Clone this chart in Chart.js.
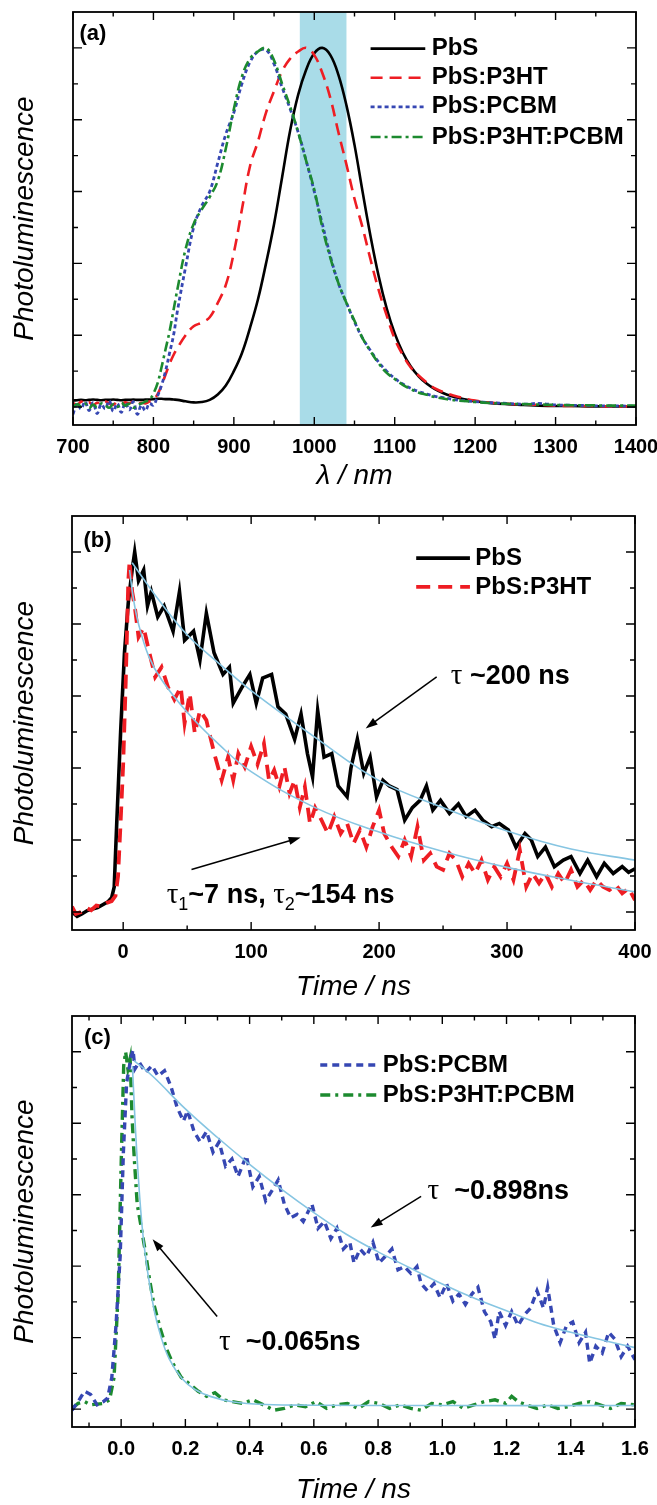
<!DOCTYPE html>
<html lang="en">
<head>
<meta charset="utf-8">
<title>PL PbS</title>
<script src="https://cdn.jsdelivr.net/npm/chart.js@4.4.1/dist/chart.umd.min.js"></script>
<style>
  html, body { margin: 0; padding: 0; background: #fff; }
  body { position: relative; width: 657px; height: 1505px; overflow: hidden; }
  canvas { position: absolute; left: 0; }
</style>
</head>
<body>
<canvas id="graficoA" width="657" height="500" style="top:0px"></canvas>
<canvas id="graficoB" width="657" height="510" style="top:495px"></canvas>
<canvas id="graficoC" width="657" height="500" style="top:1005px"></canvas>
<script>
// ---------- Panel (a): espectros de PL ----------
const longitudOnda = [700,705,710,715,720,725,730,735,740,745,750,755,760,765,770,775,780,785,790,795,
  800,805,810,815,820,825,830,
  840,850,860,870,880,890,900,910,920,930,940,950,960,970,980,990,1000,1010,1020,1030,1040,1050,1060,1070,
  1080,1090,1100,1110,1120,1130,1140,1150,1160,1170,1180,1190,1200,
  1220,1240,1260,1280,1300,1320,1340,1360,1380,1400];
const espPbS = [0.018,0.019,0.02,0.019,0.02,0.021,0.02,0.019,0.02,0.02,0.021,0.02,0.019,0.02,0.02,0.021,0.02,0.02,0.021,0.021,
  0.022,0.023,0.023,0.022,0.022,0.021,0.02,
  0.016,0.013,0.014,0.02,0.035,0.06,0.1,0.15,0.22,0.3,0.4,0.51,0.64,0.77,0.87,0.94,0.985,1.0,0.98,0.925,0.84,0.73,0.6,0.475,
  0.365,0.275,0.205,0.152,0.113,0.085,0.065,0.05,0.039,0.031,0.025,0.02,0.016,
  0.011,0.008,0.006,0.004,0.003,0.003,0.002,0.002,0.002,0.002];
const espP3HT = [0.012,0.005,0.015,0.008,0.013,0.005,0.012,0.008,0.015,0.01,0.006,0.014,0.008,0.013,0.01,0.015,0.008,0.012,0.01,0.015,
  0.02,0.035,0.06,0.09,0.12,0.145,0.165,
  0.2,0.225,0.235,0.25,0.29,0.34,0.43,0.55,0.67,0.74,0.82,0.88,0.935,0.97,0.99,1.0,0.98,0.93,0.86,0.765,0.675,0.58,0.5,0.41,
  0.326,0.255,0.19,0.145,0.11,0.087,0.068,0.052,0.042,0.034,0.028,0.022,0.018,
  0.012,0.009,0.007,0.006,0.004,0.003,0.003,0.002,0.002,0.002];
const espPCBM = [-0.02,0.01,-0.005,0.015,-0.01,0.012,-0.018,0.008,-0.005,0.018,-0.012,0.01,-0.015,0.012,-0.008,0.015,-0.02,0.005,-0.01,0.01,
  0.005,0.03,0.06,0.1,0.15,0.2,0.27,
  0.39,0.5,0.56,0.6,0.68,0.76,0.82,0.9,0.96,0.99,0.995,0.955,0.89,0.83,0.765,0.685,0.6,0.51,0.42,0.345,0.29,0.237,0.192,0.157,
  0.125,0.1,0.08,0.064,0.052,0.043,0.036,0.03,0.026,0.022,0.019,0.017,0.015,
  0.012,0.01,0.008,0.01,0.006,0.005,0.004,0.003,0.003,0.002];
const espP3HTPCBM = [0.0,0.008,0.002,0.01,-0.003,0.007,0.0,0.01,0.005,-0.002,0.008,0.0,0.012,0.004,0.009,-0.002,0.006,0.01,0.015,0.02,
  0.038,0.065,0.11,0.16,0.21,0.27,0.33,
  0.44,0.51,0.55,0.585,0.63,0.72,0.83,0.92,0.97,0.99,1.0,0.965,0.9,0.836,0.765,0.685,0.605,0.5,0.415,0.345,0.29,0.24,0.192,0.155,
  0.122,0.095,0.078,0.062,0.05,0.04,0.034,0.028,0.024,0.02,0.018,0.016,0.014,
  0.011,0.009,0.008,0.007,0.006,0.005,0.005,0.004,0.004,0.004];
const bandaFiltro = [982, 1040];
const ticksA = [700, 800, 900, 1000, 1100, 1200, 1300, 1400];

// ---------- Panel (b): decaimiento PbS y PbS:P3HT (ns) ----------
const tiempoPbS = [-40,-36,-32,-28,-24,-20,-16,-12,-9,-7,-5,-2,1,4,7,9,12,16,19,22,27,32,39,44,48,55,60,65,71,78,83,86,93,
  99,104,109,116,121,127,134,139,144,148,152,157,163,168,175,178,183,188,193,198,203,208,214,220,226,232,237,242,248,255,
  262,268,275,281,288,294,301,307,314,319,324,330,337,344,350,357,363,370,376,383,390,395,400];
const decPbS = [0.0,-0.012,-0.005,0.004,0.008,0.012,0.02,0.028,0.04,0.07,0.25,0.5,0.72,0.86,0.95,1.0,0.92,0.95,0.85,0.89,0.82,
  0.85,0.78,0.89,0.755,0.78,0.7,0.83,0.72,0.66,0.68,0.58,0.625,0.66,0.58,0.65,0.66,0.57,0.55,0.48,0.55,0.44,0.375,0.56,0.43,
  0.44,0.35,0.32,0.4,0.48,0.385,0.43,0.32,0.366,0.35,0.34,0.255,0.29,0.31,0.35,0.283,0.31,0.274,0.3,0.265,0.283,0.255,0.237,
  0.246,0.228,0.18,0.218,0.2,0.154,0.18,0.126,0.144,0.154,0.107,0.144,0.098,0.135,0.107,0.126,0.11,0.12];
const tiempoP3HT = [-40,-37,-33,-29,-25,-21,-17,-13,-9,-6,-4,-2,0,2,4,5,7,9,12,16,20,25,30,35,40,45,48,52,56,60,65,68,72,77,
  82,86,90,95,100,105,110,114,118,122,126,130,134,138,142,146,150,155,160,165,170,175,180,185,190,195,200,204,210,215,220,
  225,230,235,240,245,250,255,260,265,270,275,280,285,290,295,300,305,310,315,320,325,330,335,340,345,350,355,360,365,370,
  375,380,385,390,395,400];
const decP3HT = [0.015,-0.005,0.0,0.012,0.005,0.018,0.015,0.025,0.03,0.045,0.1,0.25,0.41,0.64,0.92,0.975,0.89,0.85,0.764,0.79,
  0.727,0.653,0.68,0.625,0.59,0.625,0.524,0.607,0.496,0.56,0.533,0.487,0.43,0.366,0.43,0.366,0.44,0.403,0.46,0.41,0.468,0.366,
  0.394,0.348,0.403,0.33,0.366,0.29,0.348,0.246,0.29,0.255,0.218,0.265,0.218,0.246,0.19,0.228,0.18,0.237,0.283,0.218,0.18,
  0.154,0.2,0.154,0.237,0.144,0.163,0.126,0.117,0.163,0.144,0.098,0.135,0.107,0.144,0.089,0.126,0.098,0.135,0.089,0.172,0.07,
  0.107,0.08,0.107,0.07,0.107,0.08,0.117,0.07,0.089,0.061,0.089,0.07,0.061,0.075,0.052,0.066,0.033];
const ajusteTiempoPbS = [7, 15, 25, 50, 75, 100, 150, 200, 250, 300, 350, 400];
const ajustePbS = [0.97, 0.93, 0.88, 0.77, 0.69, 0.615, 0.485, 0.365, 0.29, 0.225, 0.175, 0.144];
const ajusteTiempoP3HT = [5, 8, 12, 20, 30, 50, 75, 100, 150, 200, 250, 300, 350, 400];
const ajusteP3HT = [0.95, 0.87, 0.8, 0.71, 0.645, 0.555, 0.465, 0.39, 0.29, 0.222, 0.168, 0.124, 0.088, 0.056];
const ticksB = [0, 100, 200, 300, 400];

// ---------- Panel (c): decaimiento PbS:PCBM y PbS:P3HT:PCBM (ns) ----------
const tiempoPCBM = [-0.153,-0.134,-0.114,-0.095,-0.075,-0.055,-0.042,-0.029,-0.016,-0.003,0.007,0.017,0.03,0.037,0.043,0.056,
  0.076,0.096,0.115,0.135,0.155,0.174,0.194,0.207,0.227,0.246,0.266,0.286,0.305,0.325,0.345,0.364,0.39,0.41,0.43,0.45,0.47,
  0.489,0.508,0.528,0.548,0.567,0.594,0.613,0.633,0.653,0.672,0.692,0.712,0.725,0.744,0.764,0.784,0.803,0.823,0.843,0.862,
  0.882,0.902,0.921,0.934,0.954,0.974,0.993,1.013,1.033,1.052,1.072,1.092,1.111,1.131,1.151,1.164,1.177,1.197,1.216,1.236,
  1.256,1.275,1.295,1.315,1.328,1.347,1.367,1.387,1.406,1.426,1.446,1.459,1.478,1.498,1.518,1.537,1.557,1.577,1.6];
const decPCBM = [-0.003,0.021,0.05,0.041,0.012,0.021,0.031,0.089,0.234,0.428,0.719,0.913,0.981,1.005,0.952,0.971,0.942,0.961,
  0.932,0.947,0.903,0.845,0.806,0.835,0.777,0.748,0.777,0.719,0.748,0.68,0.7,0.651,0.709,0.622,0.651,0.583,0.612,0.641,0.574,
  0.535,0.545,0.525,0.574,0.506,0.525,0.477,0.506,0.448,0.467,0.409,0.448,0.428,0.467,0.409,0.428,0.448,0.39,0.399,0.38,0.399,
  0.351,0.331,0.351,0.312,0.351,0.302,0.322,0.293,0.322,0.341,0.273,0.244,0.196,0.273,0.234,0.273,0.234,0.264,0.283,0.331,
  0.283,0.341,0.234,0.186,0.234,0.244,0.186,0.215,0.128,0.176,0.157,0.215,0.196,0.147,0.176,0.138];
const tiempoP3HTPCBM = [-0.153,-0.134,-0.114,-0.095,-0.075,-0.055,-0.036,-0.022,-0.009,0.001,0.008,0.014,0.021,0.028,0.034,
  0.041,0.05,0.063,0.076,0.089,0.102,0.122,0.142,0.161,0.187,0.214,0.24,0.266,0.292,0.318,0.345,0.377,0.41,0.443,0.476,0.508,
  0.541,0.574,0.607,0.64,0.672,0.705,0.738,0.771,0.803,0.836,0.869,0.902,0.934,0.967,1.0,1.033,1.066,1.098,1.131,1.164,1.197,
  1.216,1.236,1.262,1.295,1.328,1.36,1.393,1.426,1.459,1.491,1.524,1.557,1.6];
const decP3HTPCBM = [0.002,0.016,0.021,0.012,0.014,0.016,0.026,0.089,0.331,0.719,0.961,1.0,0.952,0.981,0.816,0.7,0.574,0.506,
  0.438,0.36,0.293,0.225,0.167,0.128,0.089,0.07,0.05,0.036,0.046,0.026,0.021,0.016,0.026,0.012,-0.003,0.002,0.012,0.007,0.021,
  0.002,0.012,0.016,0.002,0.021,0.016,0.002,0.012,0.002,-0.003,0.016,0.012,0.021,0.002,0.012,0.021,0.026,0.016,0.036,0.021,
  0.012,0.002,0.012,0.002,0.007,0.016,0.021,0.012,0.002,0.016,0.012];
const ajusteTiempoPCBM = [0.04, 0.1, 0.2, 0.3, 0.4, 0.5, 0.6, 0.7, 0.8, 0.9, 1.0, 1.1, 1.2, 1.3, 1.4, 1.5, 1.6];
const ajustePCBM = [0.975, 0.93, 0.84, 0.76, 0.685, 0.615, 0.55, 0.49, 0.44, 0.395, 0.35, 0.31, 0.275, 0.24, 0.215, 0.193, 0.172];
const ajusteTiempoP3HTPCBM = [0.035, 0.05, 0.07, 0.1, 0.125, 0.15, 0.19, 0.23, 0.28, 0.35, 0.45, 0.6, 1.0, 1.6];
const ajusteP3HTPCBM = [0.96, 0.7, 0.47, 0.29, 0.2, 0.14, 0.085, 0.055, 0.035, 0.02, 0.013, 0.011, 0.01, 0.01];
const ticksC = [0, 0.2, 0.4, 0.6, 0.8, 1.0, 1.2, 1.4, 1.6];

// ---------- estilos ----------
const FUENTE = '"Liberation Sans", Arial, sans-serif';
const SERIF = '"Liberation Serif", "Times New Roman", serif';
const NEGRO = '#000000';
const ROJO = '#ee1d23';
const AZUL = '#3647b3';
const VERDE = '#1c8a2f';
const CELESTE = '#86c5e2';

function puntos(xs, ys) {
  return xs.map((x, i) => ({ x, y: ys[i] }));
}

function serie(label, xs, ys, color, ancho, guiones, tension, orden) {
  return {
    label, data: puntos(xs, ys), borderColor: color, borderWidth: ancho,
    borderDash: guiones, tension, order: orden, pointRadius: 0, fill: false
  };
}

// texto con partes: 'b' negrita, 'tau' simbolo, 'sub' subindice
function dibujarTexto(ctx, partes, x, y, tam) {
  ctx.textBaseline = 'middle';
  ctx.fillStyle = '#000';
  partes.forEach(([t, tipo]) => {
    let dy = 0;
    if (tipo === 'tau') ctx.font = `${tam + 2}px ${SERIF}`;
    else if (tipo === 'sub') { ctx.font = `${Math.round(tam * 0.65)}px ${FUENTE}`; dy = tam * 0.38; }
    else ctx.font = `bold ${tam}px ${FUENTE}`;
    ctx.fillText(t, x, y + dy);
    x += ctx.measureText(t).width;
  });
}

function flecha(ctx, x0, y0, x1, y1) {
  const ang = Math.atan2(y1 - y0, x1 - x0);
  ctx.strokeStyle = '#000';
  ctx.fillStyle = '#000';
  ctx.lineWidth = 1.5;
  ctx.setLineDash([]);
  ctx.beginPath();
  ctx.moveTo(x0, y0);
  ctx.lineTo(x1 - 8 * Math.cos(ang), y1 - 8 * Math.sin(ang));
  ctx.stroke();
  ctx.beginPath();
  ctx.moveTo(x1, y1);
  ctx.lineTo(x1 - 12 * Math.cos(ang) + 4 * Math.sin(ang), y1 - 12 * Math.sin(ang) - 4 * Math.cos(ang));
  ctx.lineTo(x1 - 12 * Math.cos(ang) - 4 * Math.sin(ang), y1 - 12 * Math.sin(ang) + 4 * Math.cos(ang));
  ctx.closePath();
  ctx.fill();
}

// marco, ticks hacia dentro, banda, leyenda y notas
const decoracion = {
  id: 'decoracion',
  beforeDatasetsDraw(chart, args, o) {
    if (!o.banda) return;
    const { ctx, chartArea: a, scales: { x } } = chart;
    const x0 = x.getPixelForValue(o.banda[0]);
    const x1 = x.getPixelForValue(o.banda[1]);
    ctx.save();
    ctx.fillStyle = '#a9dce8';
    ctx.fillRect(x0, a.top, x1 - x0, a.bottom - a.top);
    ctx.restore();
  },
  afterDraw(chart, args, o) {
    const { ctx, chartArea: a, scales: { x, y } } = chart;
    ctx.save();
    ctx.strokeStyle = '#000';
    ctx.lineWidth = 1.4;
    ctx.beginPath();
    const paso = o.pasoX / 2;
    for (let k = Math.ceil(x.min / paso - 1e-6); k * paso <= x.max + 1e-6; k++) {
      const px = x.getPixelForValue(k * paso);
      const l = k % 2 === 0 ? 8 : 4.5;
      ctx.moveTo(px, a.bottom); ctx.lineTo(px, a.bottom - l);
      ctx.moveTo(px, a.top); ctx.lineTo(px, a.top + l);
    }
    for (let k = Math.ceil(y.min / 0.1 - 1e-6); k * 0.1 < y.max - 1e-6; k++) {
      const py = y.getPixelForValue(k * 0.1);
      const l = k % 2 === 0 ? 9 : 5;
      ctx.moveTo(a.left, py); ctx.lineTo(a.left + l, py);
      ctx.moveTo(a.right, py); ctx.lineTo(a.right - l, py);
    }
    ctx.stroke();
    ctx.lineWidth = 1.8;
    ctx.strokeRect(a.left, a.top, a.right - a.left, a.bottom - a.top);

    // leyenda
    const L = o.leyenda;
    const lx0 = x.getPixelForValue(L.x0), lx1 = x.getPixelForValue(L.x1), lxt = x.getPixelForValue(L.xTexto);
    L.items.forEach(([indice, valor]) => {
      const ds = chart.data.datasets[indice];
      const py = y.getPixelForValue(valor);
      ctx.save();
      ctx.strokeStyle = ds.borderColor;
      ctx.lineWidth = ds.borderWidth;
      ctx.setLineDash(ds.borderDash || []);
      ctx.beginPath(); ctx.moveTo(lx0, py); ctx.lineTo(lx1, py); ctx.stroke();
      ctx.restore();
      dibujarTexto(ctx, [[ds.label, 'b']], lxt + 4, py, L.tam);
    });

    // notas y flechas
    (o.notas || []).forEach(n => {
      dibujarTexto(ctx, n.partes, x.getPixelForValue(n.x), y.getPixelForValue(n.y), n.tam);
    });
    (o.flechas || []).forEach(f => {
      flecha(ctx, x.getPixelForValue(f[0]), y.getPixelForValue(f[1]), x.getPixelForValue(f[2]), y.getPixelForValue(f[3]));
    });
    ctx.restore();
  }
};

function crearPanel(id, cfg) {
  return new Chart(document.getElementById(id), {
    type: 'line',
    data: { datasets: cfg.series },
    options: {
      responsive: false,
      animation: false,
      devicePixelRatio: 1,
      layout: { padding: { top: cfg.arriba, right: cfg.derecha, left: 0, bottom: 0 } },
      plugins: { legend: { display: false }, tooltip: { enabled: false }, decoracion: cfg.deco },
      scales: {
        x: {
          type: 'linear', min: cfg.xMin, max: cfg.xMax,
          afterBuildTicks: s => { s.ticks = cfg.ticks.map(v => ({ value: v })); },
          afterFit: s => { s.height = cfg.altoEjeX; s.paddingLeft = 0; s.paddingRight = 0; },
          ticks: {
            color: '#000', padding: 10, maxRotation: 0, autoSkip: false,
            font: { family: FUENTE, weight: 'bold', size: 20 },
            callback: v => cfg.formato(v)
          },
          grid: { display: false, drawTicks: false },
          border: { display: false },
          title: {
            display: true, text: cfg.tituloX, color: '#000',
            font: { family: FUENTE, style: 'italic', size: 28, lineHeight: 1 },
            padding: { top: 0, bottom: cfg.padTitulo }
          }
        },
        y: {
          min: -0.05, max: 1.1,
          afterFit: s => { s.width = cfg.anchoEjeY; },
          ticks: { display: false },
          grid: { display: false, drawTicks: false },
          border: { display: false },
          title: {
            display: true, text: 'Photoluminescence', color: '#000',
            font: { family: FUENTE, style: 'italic', size: 28, lineHeight: 1 },
            padding: { top: 11, bottom: 0 }
          }
        }
      }
    },
    plugins: [decoracion]
  });
}

// ---------- Panel (a) ----------
crearPanel('graficoA', {
  xMin: 700, xMax: 1400, ticks: ticksA, formato: v => String(v),
  tituloX: 'λ / nm', arriba: 12, derecha: 21, altoEjeX: 75, anchoEjeY: 73, padTitulo: 10,
  series: [
    serie('PbS', longitudOnda, espPbS, NEGRO, 2.6, [], 0.4, 4),
    serie('PbS:P3HT', longitudOnda, espP3HT, ROJO, 2.6, [12, 7], 0.4, 3),
    serie('PbS:PCBM', longitudOnda, espPCBM, AZUL, 2.8, [4, 3], 0.4, 2),
    serie('PbS:P3HT:PCBM', longitudOnda, espP3HTPCBM, VERDE, 2.6, [10, 4, 3, 4], 0.4, 1)
  ],
  deco: {
    pasoX: 100, banda: bandaFiltro,
    leyenda: { x0: 1070, x1: 1138, xTexto: 1141, tam: 24, items: [[0, 0.998], [1, 0.917], [2, 0.836], [3, 0.752]] },
    notas: [{ partes: [['(a)', 'b']], x: 708, y: 1.04, tam: 22 }]
  }
});

// ---------- Panel (b) ----------
crearPanel('graficoB', {
  xMin: -40, xMax: 400, ticks: ticksB, formato: v => String(v),
  tituloX: 'Time / ns', arriba: 21, derecha: 22, altoEjeX: 75, anchoEjeY: 72, padTitulo: 4,
  series: [
    serie('PbS', tiempoPbS, decPbS, NEGRO, 3.6, [], 0, 3),
    serie('PbS:P3HT', tiempoP3HT, decP3HT, ROJO, 3.8, [14, 8], 0, 2),
    serie('ajuste PbS', ajusteTiempoPbS, ajustePbS, CELESTE, 1.6, [], 0.4, 0),
    serie('ajuste PbS:P3HT', ajusteTiempoP3HT, ajusteP3HT, CELESTE, 1.6, [], 0.4, 0)
  ],
  deco: {
    pasoX: 100,
    leyenda: { x0: 229, x1: 271, xTexto: 272, tam: 24, items: [[0, 0.983], [1, 0.903]] },
    notas: [
      { partes: [['(b)', 'b']], x: -31, y: 1.03, tam: 22 },
      { partes: [['τ', 'tau'], [' ~200 ns', 'b']], x: 256, y: 0.655, tam: 27 },
      { partes: [['τ', 'tau'], ['1', 'sub'], ['~7 ns, ', 'b'], ['τ', 'tau'], ['2', 'sub'], ['~154 ns', 'b']], x: 34, y: 0.047, tam: 27 }
    ],
    flechas: [[245, 0.653, 189.5, 0.51], [53.4, 0.118, 138.7, 0.207]]
  }
});

// ---------- Panel (c) ----------
crearPanel('graficoC', {
  xMin: -0.153, xMax: 1.6, ticks: ticksC, formato: v => v.toFixed(1),
  tituloX: 'Time / ns', arriba: 11, derecha: 22, altoEjeX: 78, anchoEjeY: 72, padTitulo: 1,
  series: [
    serie('PbS:PCBM', tiempoPCBM, decPCBM, AZUL, 3.4, [7, 5], 0, 2),
    serie('PbS:P3HT:PCBM', tiempoP3HTPCBM, decP3HTPCBM, VERDE, 3.4, [10, 5, 3, 5], 0, 3),
    serie('ajuste PbS:PCBM', ajusteTiempoPCBM, ajustePCBM, CELESTE, 1.6, [], 0.4, 0),
    serie('ajuste PbS:P3HT:PCBM', ajusteTiempoP3HTPCBM, ajusteP3HTPCBM, CELESTE, 1.6, [], 0.4, 0)
  ],
  deco: {
    pasoX: 0.2,
    leyenda: { x0: 0.62, x1: 0.797, xTexto: 0.802, tam: 24, items: [[0, 0.963], [1, 0.879]] },
    notas: [
      { partes: [['(c)', 'b']], x: -0.116, y: 1.04, tam: 22 },
      { partes: [['τ', 'tau'], ['  ~0.898ns', 'b']], x: 0.954, y: 0.608, tam: 27 },
      { partes: [['τ', 'tau'], ['  ~0.065ns', 'b']], x: 0.305, y: 0.186, tam: 27 }
    ],
    flechas: [[0.934, 0.595, 0.777, 0.508], [0.299, 0.259, 0.098, 0.475]]
  }
});
</script>
</body>
</html>
